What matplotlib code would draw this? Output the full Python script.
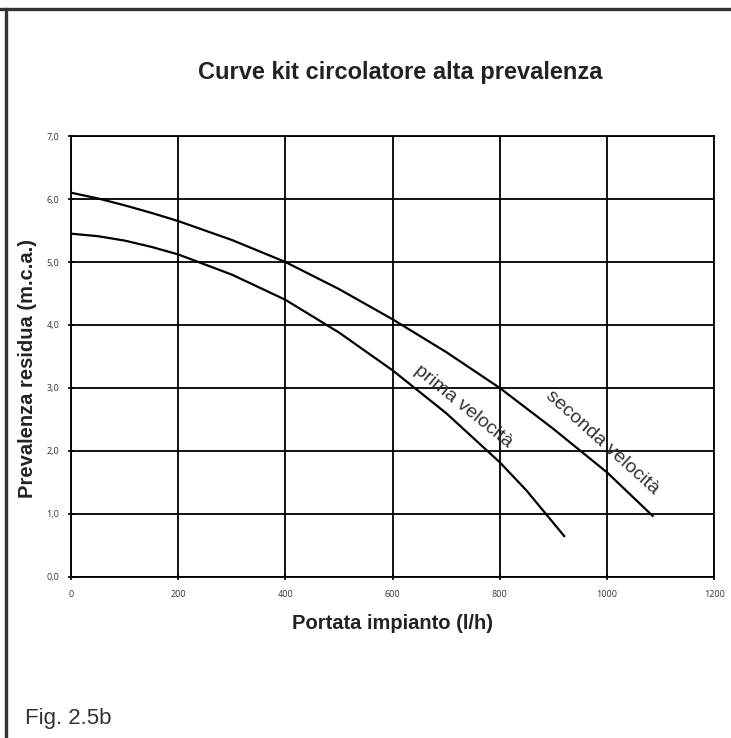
import matplotlib
matplotlib.use("Agg")
import matplotlib.pyplot as plt

# portata (l/h) e prevalenza (m.c.a.)
portata_seconda = [0, 50, 100, 150, 200, 300, 400, 500, 600, 700, 800, 900, 1000, 1085]
prevalenza_seconda = [6.10, 6.01, 5.90, 5.78, 5.65, 5.35, 5.00, 4.57, 4.09, 3.57, 3.00, 2.35, 1.66, 0.97]

portata_prima = [0, 50, 100, 150, 200, 300, 400, 500, 600, 700, 800, 850, 920]
prevalenza_prima = [5.45, 5.41, 5.34, 5.24, 5.12, 4.80, 4.40, 3.88, 3.28, 2.60, 1.82, 1.37, 0.65]

x_ticks = [0, 200, 400, 600, 800, 1000, 1200]
y_ticks = [0, 1, 2, 3, 4, 5, 6, 7]
y_tick_labels = ["0,0", "1,0", "2,0", "3,0", "4,0", "5,0", "6,0", "7,0"]

plt.rcParams['font.family'] = ['Liberation Sans', 'DejaVu Sans']

fig = plt.figure(figsize=(7.31, 7.38), dpi=100)
ax = fig.add_axes([0.0971, 0.2182, 0.8800, 0.5975])

# curve
ax.plot(portata_seconda, prevalenza_seconda, color='black', linewidth=1.6)
ax.plot(portata_prima, prevalenza_prima, color='black', linewidth=1.6)

ax.set_xlim(0, 1200)
ax.set_ylim(0, 7)
ax.set_xticks(x_ticks)
ax.set_xticklabels([str(v) for v in x_ticks])
ax.set_yticks(y_ticks)
ax.set_yticklabels(y_tick_labels)
ax.tick_params(axis='both', direction='inout', length=5, width=1.2,
               labelsize=6.5, labelcolor='#333333')
ax.tick_params(axis='x', pad=7)
ax.tick_params(axis='y', pad=6)
for lab in ax.get_xticklabels() + ax.get_yticklabels():
    lab.set_family(['Open Sans', 'DejaVu Sans'])

ax.grid(True, color='black', linewidth=1.3)
for sp in ax.spines.values():
    sp.set_linewidth(1.3)

# etichette delle curve
ax.text(731, 2.71, "prima velocità", rotation=-39, rotation_mode='anchor',
        ha='center', va='center', fontsize=14, color='#333333')
ax.text(991, 2.14, "seconda velocità", rotation=-42, rotation_mode='anchor',
        ha='center', va='center', fontsize=14, color='#333333')

ax.set_xlabel("Portata impianto (l/h)", fontsize=14.5, fontweight='bold',
              color='#222222', labelpad=11)
fig.text(0.037, 0.5, "Prevalenza residua (m.c.a.)", rotation=90,
         ha='center', va='center', fontsize=14.5, fontweight='bold', color='#222222')
fig.text(0.547, 0.902, "Curve kit circolatore alta prevalenza", ha='center',
         va='center', fontsize=17, fontweight='bold', color='#222222')
fig.text(0.034, 0.026, "Fig. 2.5b", ha='left', va='center', fontsize=16,
         color='#333333')

# cornice
fig.add_artist(plt.Line2D([0, 1], [1 - 9 / 738, 1 - 9 / 738],
                          transform=fig.transFigure, color='#333333', linewidth=2.4))
fig.add_artist(plt.Line2D([6 / 731, 6 / 731], [0, 1 - 9 / 738],
                          transform=fig.transFigure, color='#333333', linewidth=2.4))

fig.savefig("out.png", dpi=100)
